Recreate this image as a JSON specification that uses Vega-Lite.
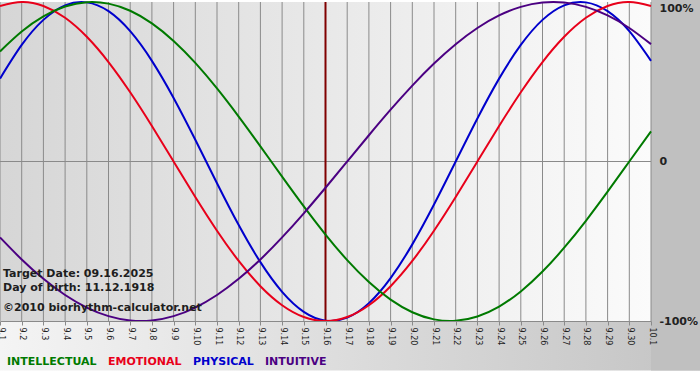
{
  "$schema": "https://vega.github.io/schema/vega-lite/v6.json",
  "width": 651,
  "height": 319,
  "autosize": {"type": "none"},
  "padding": {"left": 0, "top": 2, "right": 49, "bottom": 59},
  "background": "#ffffff",
  "config": {"view": {"stroke": null}, "font": "DejaVu Sans", "axis": {"labelOverlap": false, "labelBound": false}, "axisX": {"labelOverlap": false, "tickCount": 31}},
  "datasets": {
    "one": [{}],
    "days": [
      {"day": 1}, {"day": 2}, {"day": 3}, {"day": 4}, {"day": 5}, {"day": 6}, {"day": 7}, {"day": 8},
      {"day": 9}, {"day": 10}, {"day": 11}, {"day": 12}, {"day": 13}, {"day": 14}, {"day": 15}, {"day": 16},
      {"day": 17}, {"day": 18}, {"day": 19}, {"day": 20}, {"day": 21}, {"day": 22}, {"day": 23}, {"day": 24},
      {"day": 25}, {"day": 26}, {"day": 27}, {"day": 28}, {"day": 29}, {"day": 30}, {"day": 31}
    ],
    "notes": [
      {"note": "Target Date: 09.16.2025", "day": 1, "level": -0.724},
      {"note": "Day of birth: 11.12.1918", "day": 1, "level": -0.812},
      {"note": "©2010 biorhythm-calculator.net", "day": 1, "level": -0.937}
    ],
    "cycles": [
      {"series": "PHYSICAL", "day": 1, "value": 0.5196}, {"series": "PHYSICAL", "day": 2, "value": 0.7308},
      {"series": "PHYSICAL", "day": 3, "value": 0.8879}, {"series": "PHYSICAL", "day": 4, "value": 0.9791},
      {"series": "PHYSICAL", "day": 5, "value": 0.9977}, {"series": "PHYSICAL", "day": 6, "value": 0.9423},
      {"series": "PHYSICAL", "day": 7, "value": 0.817}, {"series": "PHYSICAL", "day": 8, "value": 0.6311},
      {"series": "PHYSICAL", "day": 9, "value": 0.3984}, {"series": "PHYSICAL", "day": 10, "value": 0.1362},
      {"series": "PHYSICAL", "day": 11, "value": -0.1362}, {"series": "PHYSICAL", "day": 12, "value": -0.3984},
      {"series": "PHYSICAL", "day": 13, "value": -0.6311}, {"series": "PHYSICAL", "day": 14, "value": -0.817},
      {"series": "PHYSICAL", "day": 15, "value": -0.9423}, {"series": "PHYSICAL", "day": 16, "value": -0.9977},
      {"series": "PHYSICAL", "day": 17, "value": -0.9791}, {"series": "PHYSICAL", "day": 18, "value": -0.8879},
      {"series": "PHYSICAL", "day": 19, "value": -0.7308}, {"series": "PHYSICAL", "day": 20, "value": -0.5196},
      {"series": "PHYSICAL", "day": 21, "value": -0.2698}, {"series": "PHYSICAL", "day": 22, "value": 0},
      {"series": "PHYSICAL", "day": 23, "value": 0.2698}, {"series": "PHYSICAL", "day": 24, "value": 0.5196},
      {"series": "PHYSICAL", "day": 25, "value": 0.7308}, {"series": "PHYSICAL", "day": 26, "value": 0.8879},
      {"series": "PHYSICAL", "day": 27, "value": 0.9791}, {"series": "PHYSICAL", "day": 28, "value": 0.9977},
      {"series": "PHYSICAL", "day": 29, "value": 0.9423}, {"series": "PHYSICAL", "day": 30, "value": 0.817},
      {"series": "PHYSICAL", "day": 31, "value": 0.6311},

      {"series": "EMOTIONAL", "day": 1, "value": 0.9749}, {"series": "EMOTIONAL", "day": 2, "value": 1},
      {"series": "EMOTIONAL", "day": 3, "value": 0.9749}, {"series": "EMOTIONAL", "day": 4, "value": 0.901},
      {"series": "EMOTIONAL", "day": 5, "value": 0.7818}, {"series": "EMOTIONAL", "day": 6, "value": 0.6235},
      {"series": "EMOTIONAL", "day": 7, "value": 0.4339}, {"series": "EMOTIONAL", "day": 8, "value": 0.2225},
      {"series": "EMOTIONAL", "day": 9, "value": 0}, {"series": "EMOTIONAL", "day": 10, "value": -0.2225},
      {"series": "EMOTIONAL", "day": 11, "value": -0.4339}, {"series": "EMOTIONAL", "day": 12, "value": -0.6235},
      {"series": "EMOTIONAL", "day": 13, "value": -0.7818}, {"series": "EMOTIONAL", "day": 14, "value": -0.901},
      {"series": "EMOTIONAL", "day": 15, "value": -0.9749}, {"series": "EMOTIONAL", "day": 16, "value": -1},
      {"series": "EMOTIONAL", "day": 17, "value": -0.9749}, {"series": "EMOTIONAL", "day": 18, "value": -0.901},
      {"series": "EMOTIONAL", "day": 19, "value": -0.7818}, {"series": "EMOTIONAL", "day": 20, "value": -0.6235},
      {"series": "EMOTIONAL", "day": 21, "value": -0.4339}, {"series": "EMOTIONAL", "day": 22, "value": -0.2225},
      {"series": "EMOTIONAL", "day": 23, "value": 0}, {"series": "EMOTIONAL", "day": 24, "value": 0.2225},
      {"series": "EMOTIONAL", "day": 25, "value": 0.4339}, {"series": "EMOTIONAL", "day": 26, "value": 0.6235},
      {"series": "EMOTIONAL", "day": 27, "value": 0.7818}, {"series": "EMOTIONAL", "day": 28, "value": 0.901},
      {"series": "EMOTIONAL", "day": 29, "value": 0.9749}, {"series": "EMOTIONAL", "day": 30, "value": 1},
      {"series": "EMOTIONAL", "day": 31, "value": 0.9749},

      {"series": "INTELLECTUAL", "day": 1, "value": 0.6901}, {"series": "INTELLECTUAL", "day": 2, "value": 0.8146},
      {"series": "INTELLECTUAL", "day": 3, "value": 0.9096}, {"series": "INTELLECTUAL", "day": 4, "value": 0.9718},
      {"series": "INTELLECTUAL", "day": 5, "value": 0.9989}, {"series": "INTELLECTUAL", "day": 6, "value": 0.9898},
      {"series": "INTELLECTUAL", "day": 7, "value": 0.945}, {"series": "INTELLECTUAL", "day": 8, "value": 0.866},
      {"series": "INTELLECTUAL", "day": 9, "value": 0.7557}, {"series": "INTELLECTUAL", "day": 10, "value": 0.6182},
      {"series": "INTELLECTUAL", "day": 11, "value": 0.4582}, {"series": "INTELLECTUAL", "day": 12, "value": 0.2817},
      {"series": "INTELLECTUAL", "day": 13, "value": 0.0951}, {"series": "INTELLECTUAL", "day": 14, "value": -0.0951},
      {"series": "INTELLECTUAL", "day": 15, "value": -0.2817}, {"series": "INTELLECTUAL", "day": 16, "value": -0.4582},
      {"series": "INTELLECTUAL", "day": 17, "value": -0.6182}, {"series": "INTELLECTUAL", "day": 18, "value": -0.7557},
      {"series": "INTELLECTUAL", "day": 19, "value": -0.866}, {"series": "INTELLECTUAL", "day": 20, "value": -0.945},
      {"series": "INTELLECTUAL", "day": 21, "value": -0.9898}, {"series": "INTELLECTUAL", "day": 22, "value": -0.9989},
      {"series": "INTELLECTUAL", "day": 23, "value": -0.9718}, {"series": "INTELLECTUAL", "day": 24, "value": -0.9096},
      {"series": "INTELLECTUAL", "day": 25, "value": -0.8146}, {"series": "INTELLECTUAL", "day": 26, "value": -0.6901},
      {"series": "INTELLECTUAL", "day": 27, "value": -0.5406}, {"series": "INTELLECTUAL", "day": 28, "value": -0.3717},
      {"series": "INTELLECTUAL", "day": 29, "value": -0.1893}, {"series": "INTELLECTUAL", "day": 30, "value": 0},
      {"series": "INTELLECTUAL", "day": 31, "value": 0.1893},

      {"series": "INTUITIVE", "day": 1, "value": -0.4759}, {"series": "INTUITIVE", "day": 2, "value": -0.6142},
      {"series": "INTUITIVE", "day": 3, "value": -0.7357}, {"series": "INTUITIVE", "day": 4, "value": -0.8372},
      {"series": "INTUITIVE", "day": 5, "value": -0.9158}, {"series": "INTUITIVE", "day": 6, "value": -0.9694},
      {"series": "INTUITIVE", "day": 7, "value": -0.9966}, {"series": "INTUITIVE", "day": 8, "value": -0.9966},
      {"series": "INTUITIVE", "day": 9, "value": -0.9694}, {"series": "INTUITIVE", "day": 10, "value": -0.9158},
      {"series": "INTUITIVE", "day": 11, "value": -0.8372}, {"series": "INTUITIVE", "day": 12, "value": -0.7357},
      {"series": "INTUITIVE", "day": 13, "value": -0.6142}, {"series": "INTUITIVE", "day": 14, "value": -0.4759},
      {"series": "INTUITIVE", "day": 15, "value": -0.3247}, {"series": "INTUITIVE", "day": 16, "value": -0.1646},
      {"series": "INTUITIVE", "day": 17, "value": 0}, {"series": "INTUITIVE", "day": 18, "value": 0.1646},
      {"series": "INTUITIVE", "day": 19, "value": 0.3247}, {"series": "INTUITIVE", "day": 20, "value": 0.4759},
      {"series": "INTUITIVE", "day": 21, "value": 0.6142}, {"series": "INTUITIVE", "day": 22, "value": 0.7357},
      {"series": "INTUITIVE", "day": 23, "value": 0.8372}, {"series": "INTUITIVE", "day": 24, "value": 0.9158},
      {"series": "INTUITIVE", "day": 25, "value": 0.9694}, {"series": "INTUITIVE", "day": 26, "value": 0.9966},
      {"series": "INTUITIVE", "day": 27, "value": 0.9966}, {"series": "INTUITIVE", "day": 28, "value": 0.9694},
      {"series": "INTUITIVE", "day": 29, "value": 0.9158}, {"series": "INTUITIVE", "day": 30, "value": 0.8372},
      {"series": "INTUITIVE", "day": 31, "value": 0.7357}
    ]
  },
  "layer": [
    {
      "data": {"name": "one"},
      "mark": {"type": "rect", "fill": {"gradient": "linear", "x1": 0, "y1": 0, "x2": 1, "y2": 0,
        "stops": [{"offset": 0, "color": "#f4f4f4"}, {"offset": 1, "color": "#c4c4c4"}]}},
      "encoding": {
        "x": {"datum": 1, "type": "quantitative"}, "x2": {"datum": 33.26},
        "y": {"datum": -1, "type": "quantitative"}, "y2": {"datum": -1.31}
      }
    },
    {
      "data": {"name": "one"},
      "mark": {"type": "rect", "fill": "#c0c0c0"},
      "encoding": {
        "x": {"datum": 31, "type": "quantitative"}, "x2": {"datum": 33.26},
        "y": {"datum": 1.0125, "type": "quantitative"}, "y2": {"datum": -1.31}
      }
    },
    {
      "data": {"name": "one"},
      "mark": {"type": "rect", "fill": {"gradient": "linear", "x1": 0, "y1": 0, "x2": 1, "y2": 0,
        "stops": [{"offset": 0, "color": "#d6d6d6"}, {"offset": 1, "color": "#fbfbfb"}]}},
      "encoding": {
        "x": {"datum": 1, "type": "quantitative"}, "x2": {"datum": 31},
        "y": {"datum": -1, "type": "quantitative"}, "y2": {"datum": 1}
      }
    },
    {
      "data": {"name": "days"},
      "mark": {"type": "rule", "color": "#8a8a8a", "strokeWidth": 1},
      "encoding": {"x": {"field": "day", "type": "quantitative"}}
    },
    {
      "data": {"name": "one"},
      "mark": {"type": "rule", "color": "#8a8a8a", "strokeWidth": 1},
      "encoding": {"y": {"datum": 0, "type": "quantitative"}}
    },
    {
      "data": {"name": "one"},
      "mark": {"type": "rule", "color": "#800000", "strokeWidth": 2},
      "encoding": {"x": {"datum": 16, "type": "quantitative"}}
    },
    {
      "data": {"name": "cycles"},
      "mark": {"type": "line", "strokeWidth": 2, "interpolate": "natural"},
      "encoding": {
        "x": {
          "field": "day", "type": "quantitative",
          "scale": {"domain": [1, 31], "nice": false, "zero": false},
          "axis": {
            "orient": "bottom", "title": null, "grid": false, "zindex": 1,
            "tickCount": 31, "tickMinStep": 1,
            "labelExpr": "datum.value <= 30 ? '9.' + datum.value : '10.1'",
            "labelAngle": 90, "labelFontSize": 8, "labelColor": "#222222", "labelPadding": 2,
            "labelFlush": false, "labelOverlap": false, "labelBound": false, "labelSeparation": 0,
            "tickSize": 4, "tickColor": "#8a8a8a", "domainColor": "#8a8a8a"
          }
        },
        "y": {
          "field": "value", "type": "quantitative",
          "scale": {"domain": [-1, 1], "nice": false, "zero": false},
          "axis": {
            "orient": "right", "title": null, "grid": false, "zindex": 1, "domain": false,
            "ticks": false, "tickSize": 0, "values": [-1, 0, 1],
            "labelExpr": "datum.value == 1 ? '100%' : datum.value == 0 ? '0' : '-100%'",
            "labelFontSize": 11, "labelFontWeight": "bold", "labelColor": "#222222", "labelPadding": 8,
            "labelBaseline": {"condition": {"test": "datum.value == 1", "value": "top"}, "value": "middle"}
          }
        },
        "color": {
          "field": "series", "type": "nominal",
          "scale": {"domain": ["INTELLECTUAL", "EMOTIONAL", "PHYSICAL", "INTUITIVE"],
                    "range": ["#007a00", "#e8001a", "#0000cc", "#4b0082"]},
          "legend": {
            "title": null, "orient": "none", "direction": "horizontal", "legendX": -4, "legendY": 354,
            "symbolSize": 1, "symbolOpacity": 0, "symbolStrokeWidth": 0, "labelOffset": 0, "columnPadding": -4, "padding": 0,
            "labelFontSize": 11, "labelFontWeight": "bold", "labelLimit": 200,
            "encode": {"labels": {"update": {"fill": {"scale": "color", "field": "value"}}}}
          }
        }
      }
    },
    {
      "data": {"name": "notes"},
      "mark": {"type": "text", "align": "left", "baseline": "alphabetic", "dx": 3, "fontSize": 11, "fontWeight": "bold", "color": "#1e1e1e"},
      "encoding": {
        "x": {"field": "day", "type": "quantitative"},
        "y": {"field": "level", "type": "quantitative"},
        "text": {"field": "note"}
      }
    }
  ]
}
